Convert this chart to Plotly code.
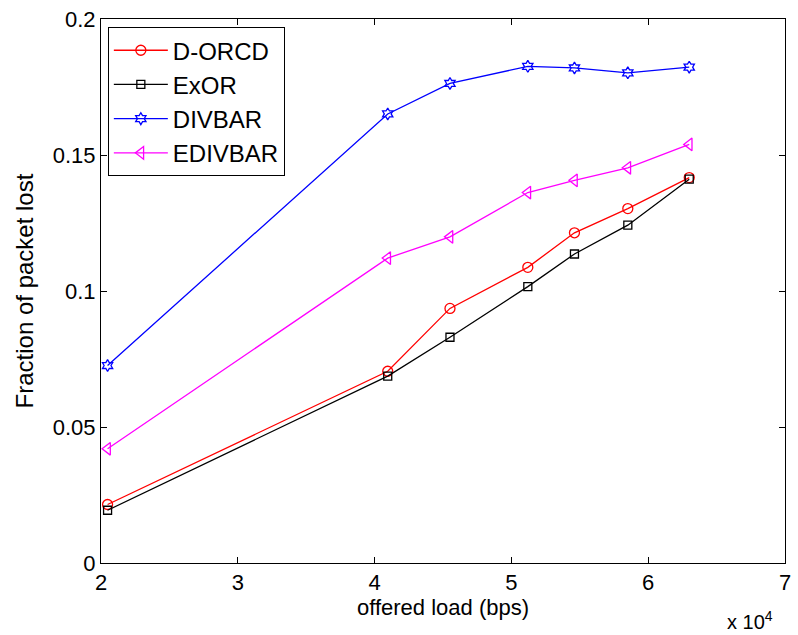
import plotly.graph_objects as go

load_bps = [20480, 40960, 45510, 51200, 54610, 58510, 63000]
d_orcd = [0.0215, 0.0705, 0.0936, 0.1087, 0.1214, 0.1303, 0.1417]
exor = [0.0194, 0.0687, 0.0830, 0.1016, 0.1136, 0.1242, 0.1411]
divbar = [0.0726, 0.1651, 0.1763, 0.1826, 0.1820, 0.1802, 0.1823]
edivbar = [0.0420, 0.1121, 0.1199, 0.1362, 0.1407, 0.1453, 0.1539]

x_ticks = [20000, 30000, 40000, 50000, 60000, 70000]
x_ticktext = ["2", "3", "4", "5", "6", "7"]
y_ticks = [0, 0.05, 0.1, 0.15, 0.2]
y_ticktext = ["0", "0.05", "0.1", "0.15", "0.2"]

FONT = "Liberation Sans, Arial, sans-serif"

fig = go.Figure()
series = [
    ("D-ORCD", d_orcd, "#ff0000", "circle-open", 10),
    ("ExOR", exor, "#000000", "square-open", 8),
    ("DIVBAR", divbar, "#0000ff", "hexagram-open", 9),
    ("EDIVBAR", edivbar, "#ff00ff", "triangle-left-open", 11),
]
for name, vals, col, sym, sz in series:
    fig.add_trace(go.Scatter(
        x=load_bps, y=vals, name=name, mode="lines+markers",
        line=dict(color=col, width=1.3),
        marker=dict(symbol=sym, size=sz, color=col, line=dict(color=col, width=1.3)),
    ))

axis_common = dict(
    showgrid=False, zeroline=False, showline=True, linecolor="black", linewidth=1,
    mirror="ticks", ticks="inside", ticklen=6, tickcolor="black",
    tickfont=dict(family=FONT, size=22, color="black"),
)
fig.update_xaxes(range=[20000, 70000], tickvals=x_ticks, ticktext=x_ticktext,
                 title=dict(text="offered load (bps)", font=dict(family=FONT, size=22, color="black"), standoff=2),
                 **axis_common)
fig.update_yaxes(range=[0, 0.2], tickvals=y_ticks, ticktext=y_ticktext,
                 title=dict(text="Fraction of packet lost", font=dict(family=FONT, size=24, color="black"), standoff=12),
                 **axis_common)

fig.add_annotation(x=1.0, y=0, xref="paper", yref="paper", xanchor="right", yanchor="bottom",
                   yshift=-72, xshift=-10, showarrow=False,
                   text="x 10<sup>4</sup>", font=dict(family=FONT, size=20, color="black"))

fig.update_layout(
    width=798, height=635,
    margin=dict(l=101, r=7, t=18, b=72),
    paper_bgcolor="white", plot_bgcolor="white",
    showlegend=True,
    legend=dict(x=0.01, y=0.985, xanchor="left", yanchor="top",
                bordercolor="black", borderwidth=1, bgcolor="white",
                font=dict(family=FONT, size=24, color="black"),
                itemwidth=54, tracegroupgap=0),
)

fig.write_html("out.html")
